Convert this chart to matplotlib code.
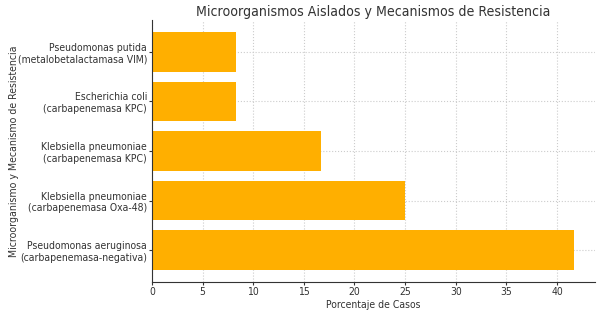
import matplotlib
matplotlib.use("Agg")
import matplotlib.pyplot as plt

categories = [
    "Pseudomonas aeruginosa\n(carbapenemasa-negativa)",
    "Klebsiella pneumoniae\n(carbapenemasa Oxa-48)",
    "Klebsiella pneumoniae\n(carbapenemasa KPC)",
    "Escherichia coli\n(carbapenemasa KPC)",
    "Pseudomonas putida\n(metalobetalactamasa VIM)",
]
values = [41.67, 25.0, 16.67, 8.33, 8.33]

plt.rcParams['font.family'] = ['DejaVu Sans']
plt.rcParams['font.stretch'] = 'condensed'
text_color = '#333333'

fig = plt.figure(figsize=(6.0, 3.13), dpi=100)
ax = fig.add_axes([152/600, 31/313, 443/600, 262/313])
ax.barh(categories, values, color='#FFAF00', height=0.8, zorder=2)
ax.set_title("Microorganismos Aislados y Mecanismos de Resistencia", fontsize=10.1, color=text_color, pad=3)
ax.set_xlabel("Porcentaje de Casos", fontsize=7.5, color=text_color, labelpad=2)
ax.set_ylabel("Microorganismo y Mecanismo de Resistencia", fontsize=7.6, color=text_color, labelpad=-1)
ax.tick_params(labelsize=7.5, colors=text_color, length=2, pad=1.5)
ax.grid(True, linestyle=':', color='#cccccc', linewidth=0.8, zorder=0)
ax.spines['top'].set_visible(False)
ax.spines['right'].set_visible(False)
ax.spines['left'].set_color('#333333')
ax.spines['bottom'].set_color('#333333')
fig.savefig("out.png", dpi=100)
